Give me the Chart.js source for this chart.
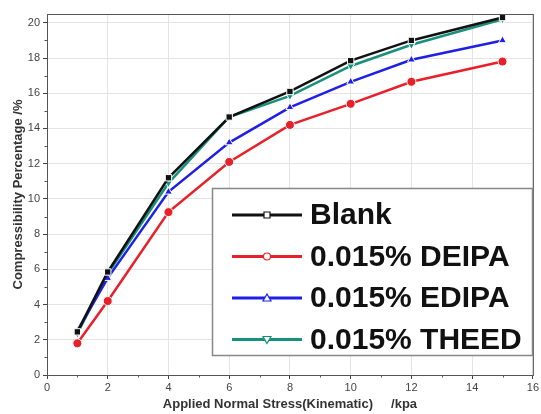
<!doctype html>
<html>
<head>
    <title>Compressibility</title>
    <script src="https://cdn.jsdelivr.net/npm/chart.js"></script>
    <style>
    body { margin: 0; background: #fff; }
    #wrap { width: 541px; height: 414px; }
    </style>
</head>
<body>
    <div id="wrap">
        <canvas id="canvas" width="541" height="414"></canvas>
    </div>
    <script>
    // stress values (kpa)
    var stress = [1, 2, 4, 6, 8, 10, 12, 15];
    var blank = [2.45, 5.85, 11.2, 14.65, 16.1, 17.85, 19.0, 20.3];
    var deipa = [1.8, 4.2, 9.25, 12.1, 14.2, 15.4, 16.65, 17.8];
    var edipa = [2.5, 5.5, 10.4, 13.2, 15.2, 16.65, 17.9, 19.0];
    var theed = [2.35, 5.75, 10.9, 14.65, 15.85, 17.55, 18.75, 20.2];
    var seriesNames = ["Blank", "0.015% DEIPA", "0.015% EDIPA", "0.015% THEED"];
    var xTicks = [0, 2, 4, 6, 8, 10, 12, 14, 16];
    var yTicks = [0, 2, 4, 6, 8, 10, 12, 14, 16, 18, 20];

    var colors = ['#111111', '#e8202a', '#1f1fe6', '#17907c'];
    var styles = ['rect', 'circle', 'triangle', 'triangle'];
    var rotations = [0, 0, 0, 180];

    function pairs(ys) {
        return stress.map(function(x, i) { return {x: x, y: ys[i]}; });
    }

    var datasets = [blank, deipa, edipa, theed].map(function(ys, i) {
        return {
            label: seriesNames[i],
            data: pairs(ys),
            borderColor: colors[i],
            backgroundColor: colors[i],
            borderWidth: 2.5,
            pointStyle: styles[i],
            pointRotation: rotations[i],
            pointRadius: 4.5,
            pointBorderWidth: 1,
            pointBorderColor: '#ffffff',
            pointBackgroundColor: colors[i],
            tension: 0
        };
    });

    // frame + minor ticks
    var framePlugin = {
        id: 'frame',
        afterDatasetsDraw: function(chart) {
            var ctx = chart.ctx, a = chart.chartArea;
            var xs = chart.scales.x, ys = chart.scales.y;
            ctx.save();
            ctx.strokeStyle = '#555';
            ctx.lineWidth = 1;
            ctx.strokeRect(a.left + 0.5, a.top + 0.5, a.right - a.left, a.bottom - a.top);
            ctx.beginPath();
            for (var v = 1; v < 16; v += 2) {
                var px = Math.round(xs.getPixelForValue(v)) + 0.5;
                ctx.moveTo(px, a.bottom); ctx.lineTo(px, a.bottom + 2.5);
            }
            for (var w = 1; w < 20; w += 2) {
                var py = Math.round(ys.getPixelForValue(w)) + 0.5;
                ctx.moveTo(a.left, py); ctx.lineTo(a.left - 2.5, py);
            }
            ctx.stroke();
            ctx.restore();
        }
    };

    // legend box inside the plot
    var boxLegend = {
        id: 'boxLegend',
        afterDraw: function(chart) {
            var ctx = chart.ctx;
            var bx = 212, by = 188, bw = 320, bh = 167;
            ctx.save();
            ctx.fillStyle = '#ffffff';
            ctx.fillRect(bx, by, bw, bh);
            ctx.strokeStyle = '#888';
            ctx.lineWidth = 1.5;
            ctx.strokeRect(bx + 0.5, by + 0.5, bw, bh);
            ctx.font = 'bold 30px "Liberation Sans", Arial, sans-serif';
            ctx.textBaseline = 'middle';
            chart.data.datasets.forEach(function(ds, i) {
                var cy = 215 + i * 41.5;
                ctx.strokeStyle = ds.borderColor;
                ctx.lineWidth = 3;
                ctx.beginPath();
                ctx.moveTo(232, cy); ctx.lineTo(302, cy);
                ctx.stroke();
                // small marker
                ctx.fillStyle = '#fff';
                ctx.lineWidth = 1.2;
                ctx.beginPath();
                var mx = 267;
                if (i === 0) { ctx.rect(mx - 3, cy - 3, 6, 6); }
                else if (i === 1) { ctx.arc(mx, cy, 3.5, 0, Math.PI * 2); }
                else if (i === 2) { ctx.moveTo(mx, cy - 4); ctx.lineTo(mx + 4, cy + 3); ctx.lineTo(mx - 4, cy + 3); ctx.closePath(); }
                else { ctx.moveTo(mx, cy + 4); ctx.lineTo(mx + 4, cy - 3); ctx.lineTo(mx - 4, cy - 3); ctx.closePath(); }
                ctx.fill(); ctx.stroke();
                ctx.fillStyle = '#111';
                ctx.fillText(ds.label, 310, cy + 1);
            });
            ctx.restore();
        }
    };

    var tickFont = { family: '"Liberation Sans", Arial, sans-serif', size: 11 };
    var titleFont = { family: '"Liberation Sans", Arial, sans-serif', size: 13, weight: 'bold' };

    var config = {
        type: 'line',
        data: { datasets: datasets },
        options: {
            responsive: false,
            animation: false,
            layout: { padding: { top: 14, right: 8, left: 0, bottom: 0 } },
            plugins: {
                legend: { display: false },
                tooltip: { enabled: false }
            },
            scales: {
                x: {
                    type: 'linear',
                    min: 0,
                    max: 16,
                    afterBuildTicks: function(s) { s.ticks = xTicks.map(function(v) { return {value: v}; }); },
                    afterFit: function(s) { s.height = 39; },
                    grid: { color: '#e4e4e4', tickColor: '#444', tickLength: 4 },
                    border: { color: '#555', width: 1 },
                    ticks: { font: tickFont, color: '#444', padding: 2, maxRotation: 0 },
                    title: {
                        display: true,
                        text: 'Applied Normal Stress(Kinematic)     /kpa',
                        font: titleFont,
                        color: '#333',
                        padding: { top: 0, bottom: 2 }
                    }
                },
                y: {
                    min: 0,
                    max: 20.5,
                    afterBuildTicks: function(s) { s.ticks = yTicks.map(function(v) { return {value: v}; }); },
                    afterFit: function(s) { s.width = 47; },
                    grid: { color: '#e4e4e4', tickColor: '#444', tickLength: 4 },
                    border: { color: '#555', width: 1 },
                    ticks: { font: tickFont, color: '#444', padding: 3 },
                    title: {
                        display: true,
                        text: 'Compressibility Percentage /%',
                        font: titleFont,
                        color: '#333',
                        padding: { top: 11, bottom: 0 }
                    }
                }
            }
        },
        plugins: [framePlugin, boxLegend]
    };

    window.onload = function() {
        window.myLine = new Chart(document.getElementById('canvas'), config);
    };
    </script>
</body>
</html>
